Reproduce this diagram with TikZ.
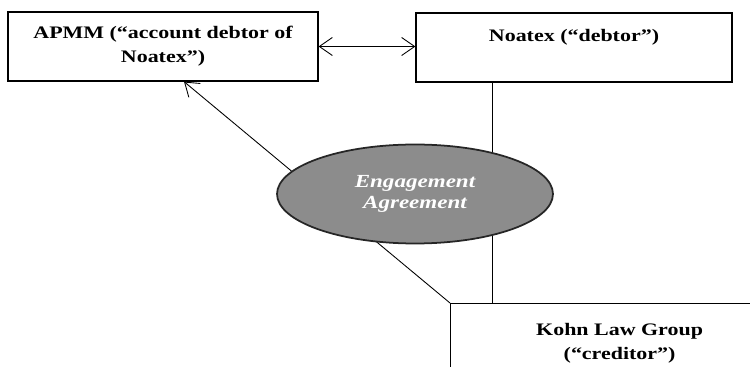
\documentclass[tikz,border=0pt]{standalone}
\usepackage{fontspec}
\setmainfont{Liberation Serif}
\usepackage{graphicx}
\usepackage{tikz}
\usetikzlibrary{positioning,calc,arrows.meta,shapes.geometric}
\newcommand{\wide}[1]{\scalebox{1.25}[1]{#1}}

\begin{document}
\begin{tikzpicture}[x=0.02cm, y=-0.02cm,
    party/.style = {draw, line width=0.7pt, align=center, font=\fontsize{10}{13.5}\selectfont\bfseries},
    barb/.tip = {Straight Barb[length=0.26cm, width=0.36cm]},
    arr/.style = {line width=0.5pt, -barb},
    twoway/.style = {line width=0.5pt, barb-barb}]
    \clip (0,0) rectangle (750,367);
    % PARTIES
    \node[party, minimum width=6.2cm, minimum height=1.38cm] (apmm) at (163, 46.5) {\wide{APMM (“account debtor of}\\\wide{Noatex”)}};
    \node[party, minimum width=6.32cm, minimum height=1.38cm] (noatex) at (574, 47.5) {\wide{Noatex (“debtor”)}\\~};
    \node[party, minimum width=6.76cm, minimum height=1.6cm, anchor=north west] (kohn) at (450, 303) {\wide{Kohn Law Group}\\\wide{(“creditor”)}};
    % CONNECTORS
    \draw[twoway] (apmm.east) -- (apmm.east -| noatex.west);
    \draw[line width=0.6pt] ($(noatex.south west)+(77,0)$) coordinate (vtop) -- (vtop |- kohn.north);
    \draw[arr] (kohn.north west) -- ($(apmm.south)+(21,0)$);
    % AGREEMENT
    \node[ellipse, fill=black!45, draw=black!85, line width=1pt, minimum width=5.52cm, minimum height=1.98cm,
          text=white, align=center, font=\fontsize{10.5}{11.5}\selectfont\bfseries\itshape] (agree) at (415, 194)
          {\wide{Engagement}\\\wide{Agreement}};
\end{tikzpicture}
\end{document}
